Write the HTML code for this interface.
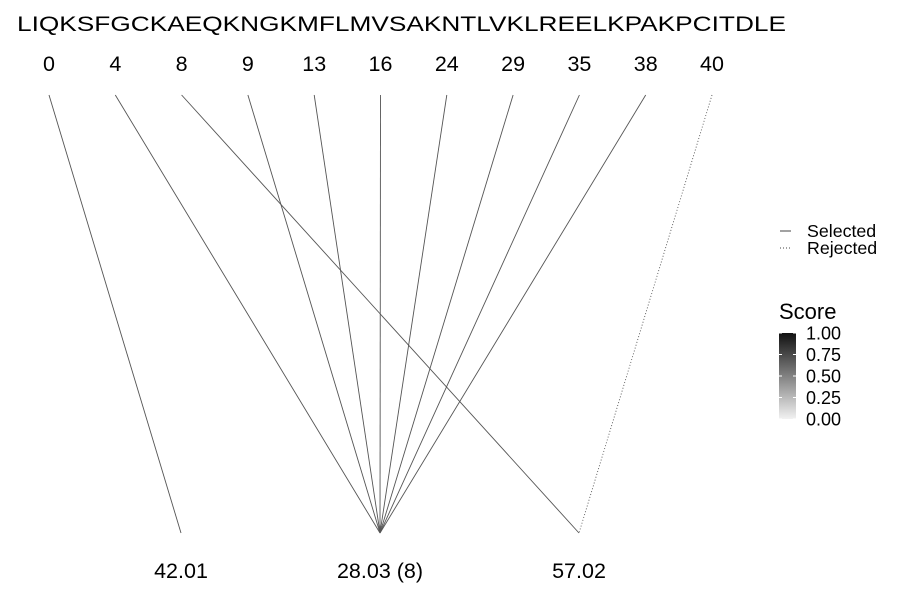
<!DOCTYPE html>
<html><head><meta charset="utf-8"><style>
body{margin:0;background:#fff;}
svg text{font-family:"Liberation Sans",sans-serif;fill:#000;}
</style></head><body>
<svg id="chart" width="900" height="600" xmlns="http://www.w3.org/2000/svg">
<defs><linearGradient id="g" x1="0" y1="1" x2="0" y2="0"><stop offset="0" stop-color="#f2f2f2"/><stop offset="1" stop-color="#111"/></linearGradient></defs>
<text x="17" y="31" font-size="21.5" textLength="769" lengthAdjust="spacingAndGlyphs">LIQKSFGCKAEQKNGKMFLMVSAKNTLVKLREELKPAKPCITDLE</text>
<g id="top"></g><g id="links"></g><g id="bottom"></g>
<g>
<line x1="780" y1="231" x2="791" y2="231" stroke="#444" stroke-width="1"/>
<text x="807" y="237" font-size="17.8">Selected</text>
<line x1="780" y1="248" x2="791" y2="248" stroke="#444" stroke-width="1" stroke-dasharray="1,2"/>
<text x="807" y="254" font-size="17.8">Rejected</text>
</g>
<g>
<text x="779" y="319" font-size="22">Score</text>
<rect x="779" y="333" width="17" height="86" fill="url(#g)"/>
<g id="cticks"></g>
</g>
</svg>
<script>
const topLabels=[0,4,8,9,13,16,24,29,35,38,40];
const bottomLabels=["42.01","28.03 (8)","57.02"];
const linkTargets=[0,1,2,1,1,1,1,1,1,1,2];
const linkSelected=[1,1,1,1,1,1,1,1,1,1,0];
const scoreTicks=["1.00","0.75","0.50","0.25","0.00"];
const NS="http://www.w3.org/2000/svg";
function mk(t,a,p){const e=document.createElementNS(NS,t);for(const k in a)e.setAttribute(k,a[k]);p.appendChild(e);return e;}
const tx=i=>49+i*(712-49)/(topLabels.length-1);
const bx=j=>181+j*199;
const gt=document.getElementById('top'),gl=document.getElementById('links'),gb=document.getElementById('bottom');
topLabels.forEach((v,i)=>{const t=mk('text',{x:tx(i),y:71,'font-size':21.5,'text-anchor':'middle'},gt);t.textContent=v;


const l=mk('line',{x1:tx(i),y1:95,x2:bx(linkTargets[i]),y2:533,stroke:'#555','stroke-width':0.9},gl);
if(!linkSelected[i])l.setAttribute('stroke-dasharray','1,2');

});
bottomLabels.forEach((v,j)=>{const t=mk('text',{x:bx(j),y:578,'font-size':21.5,'text-anchor':'middle'},gb);t.textContent=v;

});
const gc=document.getElementById('cticks');
scoreTicks.forEach((v,k)=>{const y=333+k*(86/4);
mk('line',{x1:779,x2:782,y1:y,y2:y,stroke:'#fff'},gc);mk('line',{x1:793,x2:796,y1:y,y2:y,stroke:'#fff'},gc);
const t=mk('text',{x:806,y:y+6.5,'font-size':18},gc);t.textContent=v;

});
</script>
</body></html>
